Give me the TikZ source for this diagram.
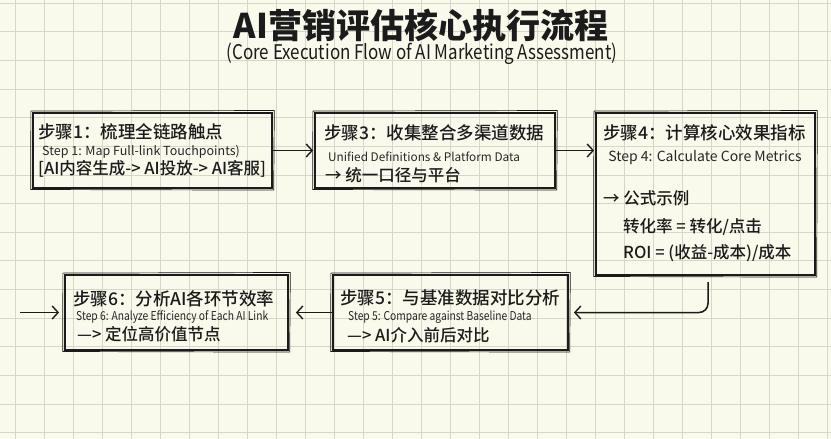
\documentclass[tikz,border=0pt]{standalone}
\usepackage{fontspec}
\setmainfont{Noto Sans CJK SC}
\newfontfamily\med{Noto Sans CJK SC Medium}
\newfontfamily\cnd{Noto Sans CJK SC}[FakeStretch=0.84]
\usetikzlibrary{arrows.meta}
\definecolor{paper}{HTML}{FAFAEC}
\definecolor{gridc}{HTML}{D6D7C9}
\definecolor{ink}{HTML}{1B1B1B}
\definecolor{inksoft}{HTML}{262626}
\tikzset{
  sketchbox/.style={draw=ink, line width=1.8pt, inner sep=0pt, fill=none},
  sketchline/.style={draw=ink, line width=0.7pt},
  gridline/.style={gridc, line width=0.8pt},
  txt/.style={anchor=west, inner sep=0pt, text=ink},
  head/.style={txt, font=\med\fontsize{17.5}{20}\selectfont},
  sub/.style={txt, text=inksoft, font=\fontsize{12.5}{15}\selectfont},
  csub/.style={txt, text=inksoft, font=\cnd\fontsize{12.2}{14}\selectfont},
  body/.style={txt, font=\med\fontsize{16.5}{19}\selectfont},
  flow/.style={draw=ink, line width=1.5pt, -{Straight Barb[length=6pt,width=13pt,line width=1.4pt]}}
}
\newcommand{\sketchover}[1]{%
  \draw[sketchline] ([shift={(-1.2pt,1.0pt)}]#1.north west) -- ([shift={(1.4pt,1.6pt)}]#1.north east)
    -- ([shift={(0.8pt,-1.2pt)}]#1.south east) -- ([shift={(-1.4pt,-0.6pt)}]#1.south west) -- cycle;}
\begin{document}
\begin{tikzpicture}[x=1pt,y=-1pt]
\fill[paper] (0,0) rectangle (831,439);
\useasboundingbox (0,0) rectangle (831,439);
\foreach \i in {0,...,28} \draw[gridline] ({15+29*\i},0) -- ({15+29*\i},439);
\foreach \j in {0,...,15} \draw[gridline] (0,{3+28.65*\j}) -- (831,{3+28.65*\j});

% title
\node[inner sep=0pt, text=ink, font=\bfseries\fontsize{34}{38}\selectfont] (title) at (421,26) {AI营销评估核心执行流程};
\node[inner sep=0pt, text=ink, font=\cnd\fontsize{20.2}{22}\selectfont] (subtitle) at (422,54) {(Core Execution Flow of AI Marketing Assessment)};

% boxes
\node[sketchbox, minimum width=239pt, minimum height=75pt] (box1) at (152.5,150.5) {};
\node[sketchbox, minimum width=240pt, minimum height=75pt] (box3) at (435,150.5) {};
\node[sketchbox, minimum width=219pt, minimum height=162pt] (box4) at (705.5,194) {};
\node[sketchbox, minimum width=235pt, minimum height=75pt] (box5) at (450.5,312.5) {};
\node[sketchbox, minimum width=223pt, minimum height=75pt] (box6) at (176.5,312.5) {};
\sketchover{box1}
\sketchover{box3}
\sketchover{box4}
\sketchover{box5}
\sketchover{box6}

% box1 text
\node[head] (b1a) at (38,132) {步骤1：梳理全链路触点};
\node[sub] (b1b) at (42,152) {Step 1: Map Full-link Touchpoints)};
\node[body] (b1c) at (38,169) {[AI内容生成-> AI投放-> AI客服]};

% box3 text
\node[head] (b3a) at (324,133) {步骤3：收集整合多渠道数据};
\node[sub, font=\fontsize{11.8}{14}\selectfont] (b3b) at (328,157) {Unified Definitions \& Platform Data};
\node[body] (b3c) at (325,175) {→ 统一口径与平台};

% box4 text
\node[head] (b4a) at (603,133) {步骤4：计算核心效果指标};
\node[sub, anchor=center, font=\fontsize{14}{16}\selectfont] (b4b) at (705,158) {Step 4: Calculate Core Metrics};
\node[body] (b4c) at (603,198) {→ 公式示例};
\node[body] (b4d) at (623,227) {转化率 = 转化/点击};
\node[body] (b4e) at (623,253) {ROI = (收益-成本)/成本};

% box5 text
\node[head] (b5a) at (340,298) {步骤5：与基准数据对比分析};
\node[csub] (b5b) at (348,317) {Step 5: Compare against Baseline Data};
\node[body] (b5c) at (347,335) {—> AI介入前后对比};

% box6 text
\node[head] (b6a) at (73,299) {步骤6：分析AI各环节效率};
\node[csub] (b6b) at (76,317) {Step 6: Analyze Efficiency of Each AI Link};
\node[body] (b6c) at (77,334) {—> 定位高价值节点};

% connectors
\coordinate (a3s) at (708,282);
\coordinate (in6) at (20,312.5);
\draw[flow, shorten >=1pt] (box1.east) -- (box3.west);
\draw[flow, shorten >=1pt] (box3.east) -- (box3.east -| box4.west);
\draw[flow, rounded corners=9pt, shorten >=5pt] (a3s) |- (box5.east);
\draw[flow, shorten >=7pt] (box5.west) -- (box6.east);
\draw[flow, shorten >=5pt] (in6) -- (box6.west);
\end{tikzpicture}
\end{document}
